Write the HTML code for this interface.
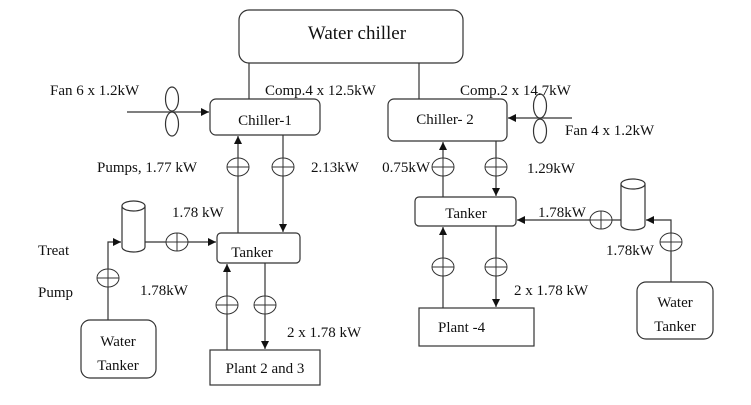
<!DOCTYPE html>
<html><head><style>
html,body{margin:0;padding:0;background:#fff;}
svg{display:block;}
text{font-family:"Liberation Serif",serif;font-size:15px;fill:#111;}
</style></head><body>
<svg width="751" height="405" viewBox="0 0 751 405" xmlns="http://www.w3.org/2000/svg">
<defs>
<marker id="a" markerWidth="8" markerHeight="8" refX="8" refY="4" orient="auto" markerUnits="userSpaceOnUse">
<path d="M0,0 L8,4 L0,8 z" fill="#111"/></marker>
<g id="p"><ellipse cx="0" cy="0" rx="11" ry="9" fill="#fff" stroke="#333" stroke-width="1"/><line x1="-11" y1="0" x2="11" y2="0" stroke="#333"/><line x1="0" y1="-9" x2="0" y2="9" stroke="#333"/></g>
</defs>
<g fill="none" stroke="#333" stroke-width="1.2">
<rect x="239" y="10" width="224" height="53" rx="10"/>
<line x1="249" y1="63" x2="249" y2="99"/>
<line x1="419" y1="63" x2="419" y2="99"/>
<rect x="210" y="99" width="110" height="36" rx="6"/>
<rect x="388" y="99" width="119" height="42" rx="6"/>
<rect x="217" y="233" width="83" height="30" rx="4"/>
<rect x="415" y="197" width="101" height="29" rx="4"/>
<rect x="210" y="350" width="110" height="35"/>
<rect x="419" y="308" width="115" height="38"/>
<rect x="81" y="320" width="75" height="58" rx="9"/>
<rect x="637" y="282" width="76" height="57" rx="9"/>
<line x1="127" y1="112" x2="209" y2="112" marker-end="url(#a)"/>
<ellipse cx="172" cy="99" rx="6.5" ry="12" fill="#fff"/>
<ellipse cx="172" cy="124" rx="6.5" ry="12" fill="#fff"/>
<line x1="572" y1="118" x2="508" y2="118" marker-end="url(#a)"/>
<ellipse cx="540" cy="106" rx="6.5" ry="12" fill="#fff"/>
<ellipse cx="540" cy="131" rx="6.5" ry="12" fill="#fff"/>
<line x1="238" y1="233" x2="238" y2="136" marker-end="url(#a)"/>
<line x1="283" y1="135" x2="283" y2="232" marker-end="url(#a)"/>
<line x1="145" y1="242" x2="216" y2="242" marker-end="url(#a)"/>
<polyline points="108,320 108,242 121,242" marker-end="url(#a)"/>
<line x1="227" y1="350" x2="227" y2="264" marker-end="url(#a)"/>
<line x1="265" y1="263" x2="265" y2="349" marker-end="url(#a)"/>
<line x1="443" y1="197" x2="443" y2="142" marker-end="url(#a)"/>
<line x1="496" y1="141" x2="496" y2="196" marker-end="url(#a)"/>
<line x1="621" y1="220" x2="517" y2="220" marker-end="url(#a)"/>
<polyline points="671,282 671,220 646,220" marker-end="url(#a)"/>
<line x1="443" y1="308" x2="443" y2="227" marker-end="url(#a)"/>
<line x1="496" y1="226" x2="496" y2="307" marker-end="url(#a)"/>
<path d="M122,206 L122,247 A11.5,5 0 0 0 145,247 L145,206" fill="#fff"/>
<ellipse cx="133.5" cy="206" rx="11.5" ry="5" fill="#fff"/>
<path d="M621,184 L621,225 A12,5 0 0 0 645,225 L645,184" fill="#fff"/>
<ellipse cx="633" cy="184" rx="12" ry="5" fill="#fff"/>
</g>
<use href="#p" x="238" y="167"/><use href="#p" x="283" y="167"/>
<use href="#p" x="177" y="242"/><use href="#p" x="108" y="278"/>
<use href="#p" x="227" y="305"/><use href="#p" x="265" y="305"/>
<use href="#p" x="443" y="167"/><use href="#p" x="496" y="167"/>
<use href="#p" x="601" y="220"/><use href="#p" x="671" y="242"/>
<use href="#p" x="443" y="267"/><use href="#p" x="496" y="267"/>
<text x="357" y="39" text-anchor="middle" style="font-size:19px">Water chiller</text>
<text x="50" y="95">Fan 6 x 1.2kW</text>
<text x="265" y="95">Comp.4 x 12.5kW</text>
<text x="460" y="95">Comp.2 x 14.7kW</text>
<text x="565" y="135">Fan 4 x 1.2kW</text>
<text x="265" y="125" text-anchor="middle">Chiller-1</text>
<text x="445" y="124" text-anchor="middle">Chiller- 2</text>
<text x="97" y="172">Pumps, 1.77 kW</text>
<text x="311" y="172">2.13kW</text>
<text x="172" y="217">1.78 kW</text>
<text x="252" y="257" text-anchor="middle">Tanker</text>
<text x="38" y="255">Treat</text>
<text x="38" y="297">Pump</text>
<text x="140" y="295">1.78kW</text>
<text x="118" y="346" text-anchor="middle">Water</text>
<text x="118" y="370" text-anchor="middle">Tanker</text>
<text x="265" y="373" text-anchor="middle">Plant 2 and 3</text>
<text x="287" y="337">2 x 1.78 kW</text>
<text x="430" y="172" text-anchor="end">0.75kW</text>
<text x="527" y="173">1.29kW</text>
<text x="466" y="218" text-anchor="middle">Tanker</text>
<text x="538" y="217">1.78kW</text>
<text x="606" y="255">1.78kW</text>
<text x="675" y="307" text-anchor="middle">Water</text>
<text x="675" y="331" text-anchor="middle">Tanker</text>
<text x="438" y="332">Plant -4</text>
<text x="514" y="295">2 x 1.78 kW</text>
</svg>
</body></html>
